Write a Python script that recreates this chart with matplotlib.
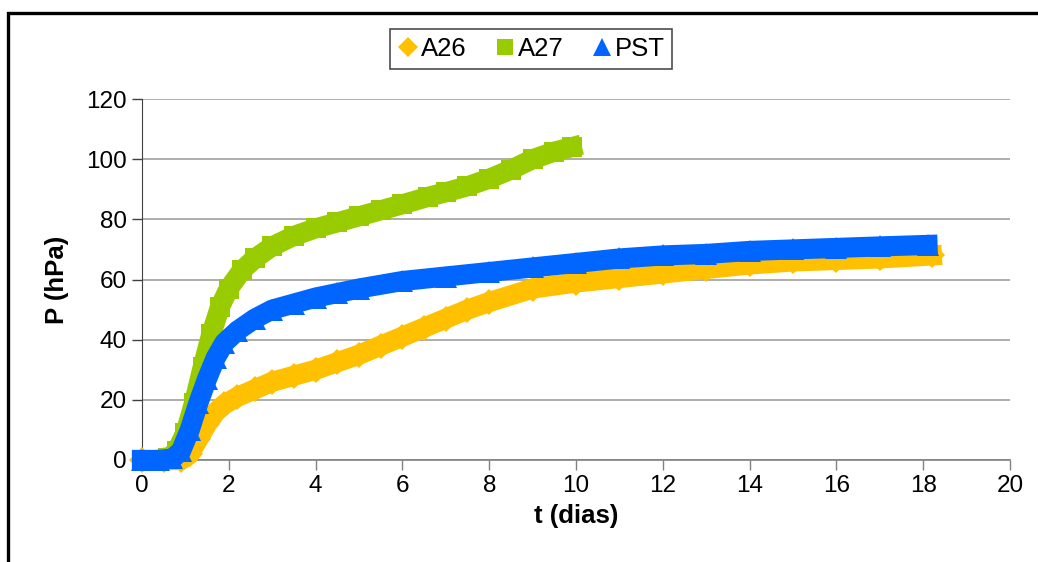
import matplotlib.pyplot as plt
from matplotlib.lines import Line2D
from matplotlib.patches import Rectangle

plt.rcParams['font.family'] = ['Liberation Sans', 'DejaVu Sans']

# A26 (yellow diamonds)
t_a26 = [0, 0.5, 0.9, 1.1, 1.3, 1.5, 1.7, 1.9, 2.2, 2.6, 3.0, 3.5, 4.0, 4.5, 5.0, 5.5,
         6.0, 6.5, 7.0, 7.5, 8.0, 9.0, 10, 11, 12, 13, 14, 15, 16, 17, 18.2]
p_a26 = [0, 0, 0, 2, 7, 12, 16, 18.5, 21, 23.5, 26, 28, 30, 32.5, 35, 38,
         41, 44, 47, 50, 52.5, 57, 59, 60.5, 62, 63.5, 65, 66, 66.5, 67, 68]

# A27 (green squares)
t_a27 = [0, 0.3, 0.6, 0.8, 1.0, 1.2, 1.4, 1.6, 1.8, 2.0, 2.3, 2.6, 3.0, 3.5, 4.0, 4.5,
         5.0, 5.5, 6.0, 6.6, 7.0, 7.5, 8.0, 8.5, 9.0, 9.5, 9.9]
p_a27 = [0, 0, 0.5, 3, 9, 19, 31, 42, 51, 57, 63, 67, 71, 74.5, 77, 79,
         81, 83, 85, 87.5, 89, 91, 93.5, 96.5, 100, 102.5, 104]

# PST (blue triangles)
t_pst = [0, 0.4, 0.7, 0.9, 1.1, 1.3, 1.5, 1.7, 1.9, 2.2, 2.6, 3.0, 3.5, 4.0, 4.5, 5.0,
         6.0, 7.0, 8.0, 9.0, 10, 11, 12, 13, 14, 15, 16, 17, 18.1]
p_pst = [0, 0, 0.5, 3, 10, 19, 27, 34, 39, 43, 47, 50, 52, 54, 55.5, 57,
         59.5, 61, 62.5, 64, 65.5, 67, 68, 68.5, 69.5, 70, 70.5, 71, 71.5]

c_a26 = '#FFC000'
c_a27 = '#99CC00'
c_pst = '#0066FF'

fig = plt.figure(figsize=(10.38, 5.62), dpi=100)
ax = fig.add_axes([0.1368, 0.1815, 0.8362, 0.6423])

ax.plot(t_a26, p_a26, color=c_a26, lw=14.5, marker='D', ms=13, mew=0, clip_on=False, zorder=3)
ax.plot(t_a27, p_a27, color=c_a27, lw=14.5, marker='s', ms=14, mew=0, clip_on=False, zorder=4)
ax.plot(t_pst, p_pst, color=c_pst, lw=14.5, marker='^', ms=16, mew=0, clip_on=False, zorder=5)

ax.set_xlim(0, 20)
ax.set_ylim(0, 120)
ax.set_xticks(range(0, 21, 2))
ax.set_yticks(range(0, 121, 20))
ax.grid(axis='y', color='#a0a0a0', lw=1.2)
ax.set_axisbelow(True)
for s in ('top', 'right'):
    ax.spines[s].set_visible(False)
ax.spines['left'].set_color('#404040')
ax.spines['bottom'].set_color('#808080')
ax.spines['bottom'].set_linewidth(1.2)
ax.tick_params(axis='y', direction='out', length=7, width=1, colors='#404040',
               labelcolor='black', labelsize=17.5, pad=4)
ax.tick_params(axis='x', direction='out', length=7, width=1, colors='#808080',
               labelcolor='black', labelsize=17.5, pad=4)

ax.set_xlabel('t (dias)', fontsize=18.5, fontweight='bold', labelpad=5)
ax.set_ylabel('P (hPa)', fontsize=18.5, fontweight='bold', labelpad=12)

handles = [
    Line2D([], [], ls='none', marker='D', ms=10, color=c_a26, mew=0),
    Line2D([], [], ls='none', marker='s', ms=12, color=c_a27, mew=0),
    Line2D([], [], ls='none', marker='^', ms=13, color=c_pst, mew=0),
]
leg = fig.legend(handles, ['A26', 'A27', 'PST'], loc='center', bbox_to_anchor=(0.5116, 0.913),
                 ncol=3, fontsize=18.5, frameon=True, fancybox=False, handlelength=0.8,
                 handletextpad=0.1, columnspacing=1.1, borderpad=0.3)
leg.get_frame().set_edgecolor('#202020')
leg.get_frame().set_linewidth(1.2)

fig.patches.append(Rectangle((0.0077, -0.2), 1.5, 0.9769 + 0.2, transform=fig.transFigure,
                             fill=False, edgecolor='black', lw=2.4))

fig.savefig('out.png', dpi=100)
